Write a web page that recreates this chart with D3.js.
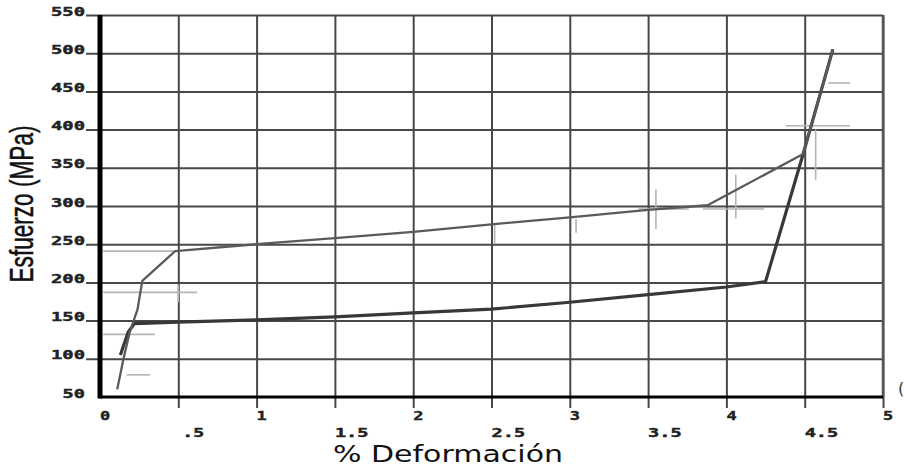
<!DOCTYPE html>
<html>
<head>
<meta charset="utf-8">
<script src="https://cdn.jsdelivr.net/npm/d3@7"></script>
<style>
  body { margin: 0; background: #fff; }
  svg { display: block; }
</style>
</head>
<body>
<div id="chart"></div>
<script>
"use strict";

// % deformacion / esfuerzo (MPa)
var xTicks = [0, 0.5, 1, 1.5, 2, 2.5, 3, 3.5, 4, 4.5, 5];
var xTickLabels = ["0", ".5", "1", "1.5", "2", "2.5", "3", "3.5", "4", "4.5", "5"];
var yTicks = [50, 100, 150, 200, 250, 300, 350, 400, 450, 500, 550];

var loadStrain = [0.11, 0.15, 0.19, 0.24, 0.27, 0.48, 1.0, 1.5, 2.0, 2.5, 3.0, 3.5, 3.88, 4.49, 4.68];
var loadStress = [60, 100, 135, 165, 202, 241, 250, 258, 266, 276, 285, 295, 301, 368, 505];

var unloadStrain = [4.68, 4.49, 4.25, 4.0, 3.5, 3.0, 2.5, 2.0, 1.5, 1.0, 0.5, 0.22, 0.18, 0.13];
var unloadStress = [505, 368, 201, 194, 184, 174, 165, 160, 155, 151, 148, 146, 135, 105];

// light grey error marks: [stress, strain from, strain to] and [strain, stress from, stress to]
var errH = [[241, 0.02, 0.5], [187, 0.02, 0.62], [132, 0.02, 0.35], [79, 0.17, 0.32],
            [296, 3.44, 3.76], [296, 3.85, 4.24], [405, 4.38, 4.79], [461, 4.65, 4.79]];
var errV = [[0.5, 174, 197], [2.52, 251, 275], [3.04, 265, 283], [3.55, 270, 322],
            [4.06, 284, 341], [4.57, 334, 400]];

var margin = { top: 15, right: 22, bottom: 72, left: 100 };
var width = 905 - margin.left - margin.right;
var height = 469 - margin.top - margin.bottom;

var svg = d3.select("#chart").append("svg")
    .attr("width", 905)
    .attr("height", 469);

var g = svg.append("g")
    .attr("transform", "translate(" + margin.left + "," + margin.top + ")");

var x = d3.scaleLinear().domain([0, 5]).range([0, width]);
var y = d3.scaleLinear().domain([50, 550]).range([height, 0]);

// vertical grid + ticks below the axis
var gx = g.append("g")
    .attr("transform", "translate(0," + height + ")")
    .call(d3.axisBottom(x).tickValues(xTicks.slice(1)).tickSize(-height).tickFormat(""));
gx.select(".domain").remove();
gx.selectAll(".tick line")
    .attr("y1", 11)
    .attr("stroke", "#484848")
    .attr("stroke-width", 2);

// horizontal grid + small ticks left of the axis
var gy = g.append("g")
    .call(d3.axisLeft(y).tickValues(yTicks.slice(1)).tickSize(-width).tickFormat(""));
gy.select(".domain").remove();
gy.selectAll(".tick line")
    .attr("x1", -14)
    .attr("stroke", "#484848")
    .attr("stroke-width", 2);

// right border
g.append("line")
    .attr("x1", width).attr("x2", width)
    .attr("y1", 0).attr("y2", height)
    .attr("stroke", "#555")
    .attr("stroke-width", 2.5);

// tick labels
var tickFont = "'DejaVu Sans Mono', 'Liberation Mono', monospace";

g.selectAll(".ylab")
    .data(yTicks)
    .enter()
    .append("text")
    .attr("class", "ylab")
    .attr("x", -15)
    .attr("y", function(d) { return y(d) + 0.5; })
    .attr("text-anchor", "end")
    .attr("textLength", function(d) { return String(d).length * 11.7 - 1; })
    .attr("lengthAdjust", "spacingAndGlyphs")
    .style("font-family", tickFont)
    .style("font-weight", "bold")
    .style("font-size", "11.5px")
    .style("fill", "#222")
    .style("stroke", "#222")
    .style("stroke-width", 0.4)
    .text(function(d) { return d; });

g.selectAll(".xlab")
    .data(xTicks)
    .enter()
    .append("text")
    .attr("class", "xlab")
    .attr("x", function(d, i) { return x(d) + (i === 1 ? 4 : 0); })
    .attr("y", function(d, i) { return height + (i % 2 === 0 ? 23 : 40); })
    .attr("textLength", function(d, i) { return xTickLabels[i].length * 11.7 - 1.5; })
    .attr("lengthAdjust", "spacingAndGlyphs")
    .style("font-family", tickFont)
    .style("font-weight", "bold")
    .style("font-size", "11.5px")
    .style("fill", "#222")
    .style("stroke", "#222")
    .style("stroke-width", 0.4)
    .text(function(d, i) { return xTickLabels[i]; });

// error marks
g.selectAll(".errh")
    .data(errH)
    .enter()
    .append("line")
    .attr("x1", function(d) { return x(d[1]); })
    .attr("x2", function(d) { return x(d[2]); })
    .attr("y1", function(d) { return y(d[0]); })
    .attr("y2", function(d) { return y(d[0]); })
    .attr("stroke", "#b4b4b4")
    .attr("stroke-width", 1.6);

g.selectAll(".errv")
    .data(errV)
    .enter()
    .append("line")
    .attr("x1", function(d) { return x(d[0]); })
    .attr("x2", function(d) { return x(d[0]); })
    .attr("y1", function(d) { return y(d[1]); })
    .attr("y2", function(d) { return y(d[2]); })
    .attr("stroke", "#b4b4b4")
    .attr("stroke-width", 1.6);

// curves
var line = d3.line()
    .x(function(d) { return x(d[0]); })
    .y(function(d) { return y(d[1]); });

g.append("path")
    .datum(d3.zip(unloadStrain, unloadStress))
    .attr("d", line)
    .attr("fill", "none")
    .attr("stroke", "#383838")
    .attr("stroke-width", 3.2)
    .attr("stroke-linejoin", "round");

g.append("path")
    .datum(d3.zip(loadStrain, loadStress))
    .attr("d", line)
    .attr("fill", "none")
    .attr("stroke", "#5a5a5a")
    .attr("stroke-width", 2.3)
    .attr("stroke-linejoin", "round");

// heavy axes
g.append("line")
    .attr("x1", 0).attr("x2", width)
    .attr("y1", height).attr("y2", height)
    .attr("stroke", "#000")
    .attr("stroke-width", 3);

g.append("line")
    .attr("x1", 0).attr("x2", 0)
    .attr("y1", 0).attr("y2", height + 1.5)
    .attr("stroke", "#000")
    .attr("stroke-width", 5);

// titles
svg.append("text")
    .attr("transform", "translate(33,204) rotate(-90)")
    .attr("text-anchor", "middle")
    .attr("textLength", 157)
    .attr("lengthAdjust", "spacingAndGlyphs")
    .style("font-family", "'Liberation Sans Narrow', 'Liberation Sans', Arial, sans-serif")
    .style("font-size", "33px")
    .style("fill", "#111")
    .style("stroke", "#111")
    .style("stroke-width", 0.5)
    .text("Esfuerzo (MPa)");

svg.append("text")
    .attr("x", 333)
    .attr("y", 462)
    .attr("textLength", 230)
    .attr("lengthAdjust", "spacingAndGlyphs")
    .style("font-family", "'DejaVu Sans', Verdana, sans-serif")
    .style("font-size", "23px")
    .style("fill", "#111")
    .text("% Deformación");

// stray glyph cut off at the right edge
svg.append("text")
    .attr("x", 898)
    .attr("y", 394)
    .style("font-family", "'DejaVu Sans', sans-serif")
    .style("font-size", "16px")
    .style("fill", "#333")
    .text("(");
</script>
</body>
</html>
